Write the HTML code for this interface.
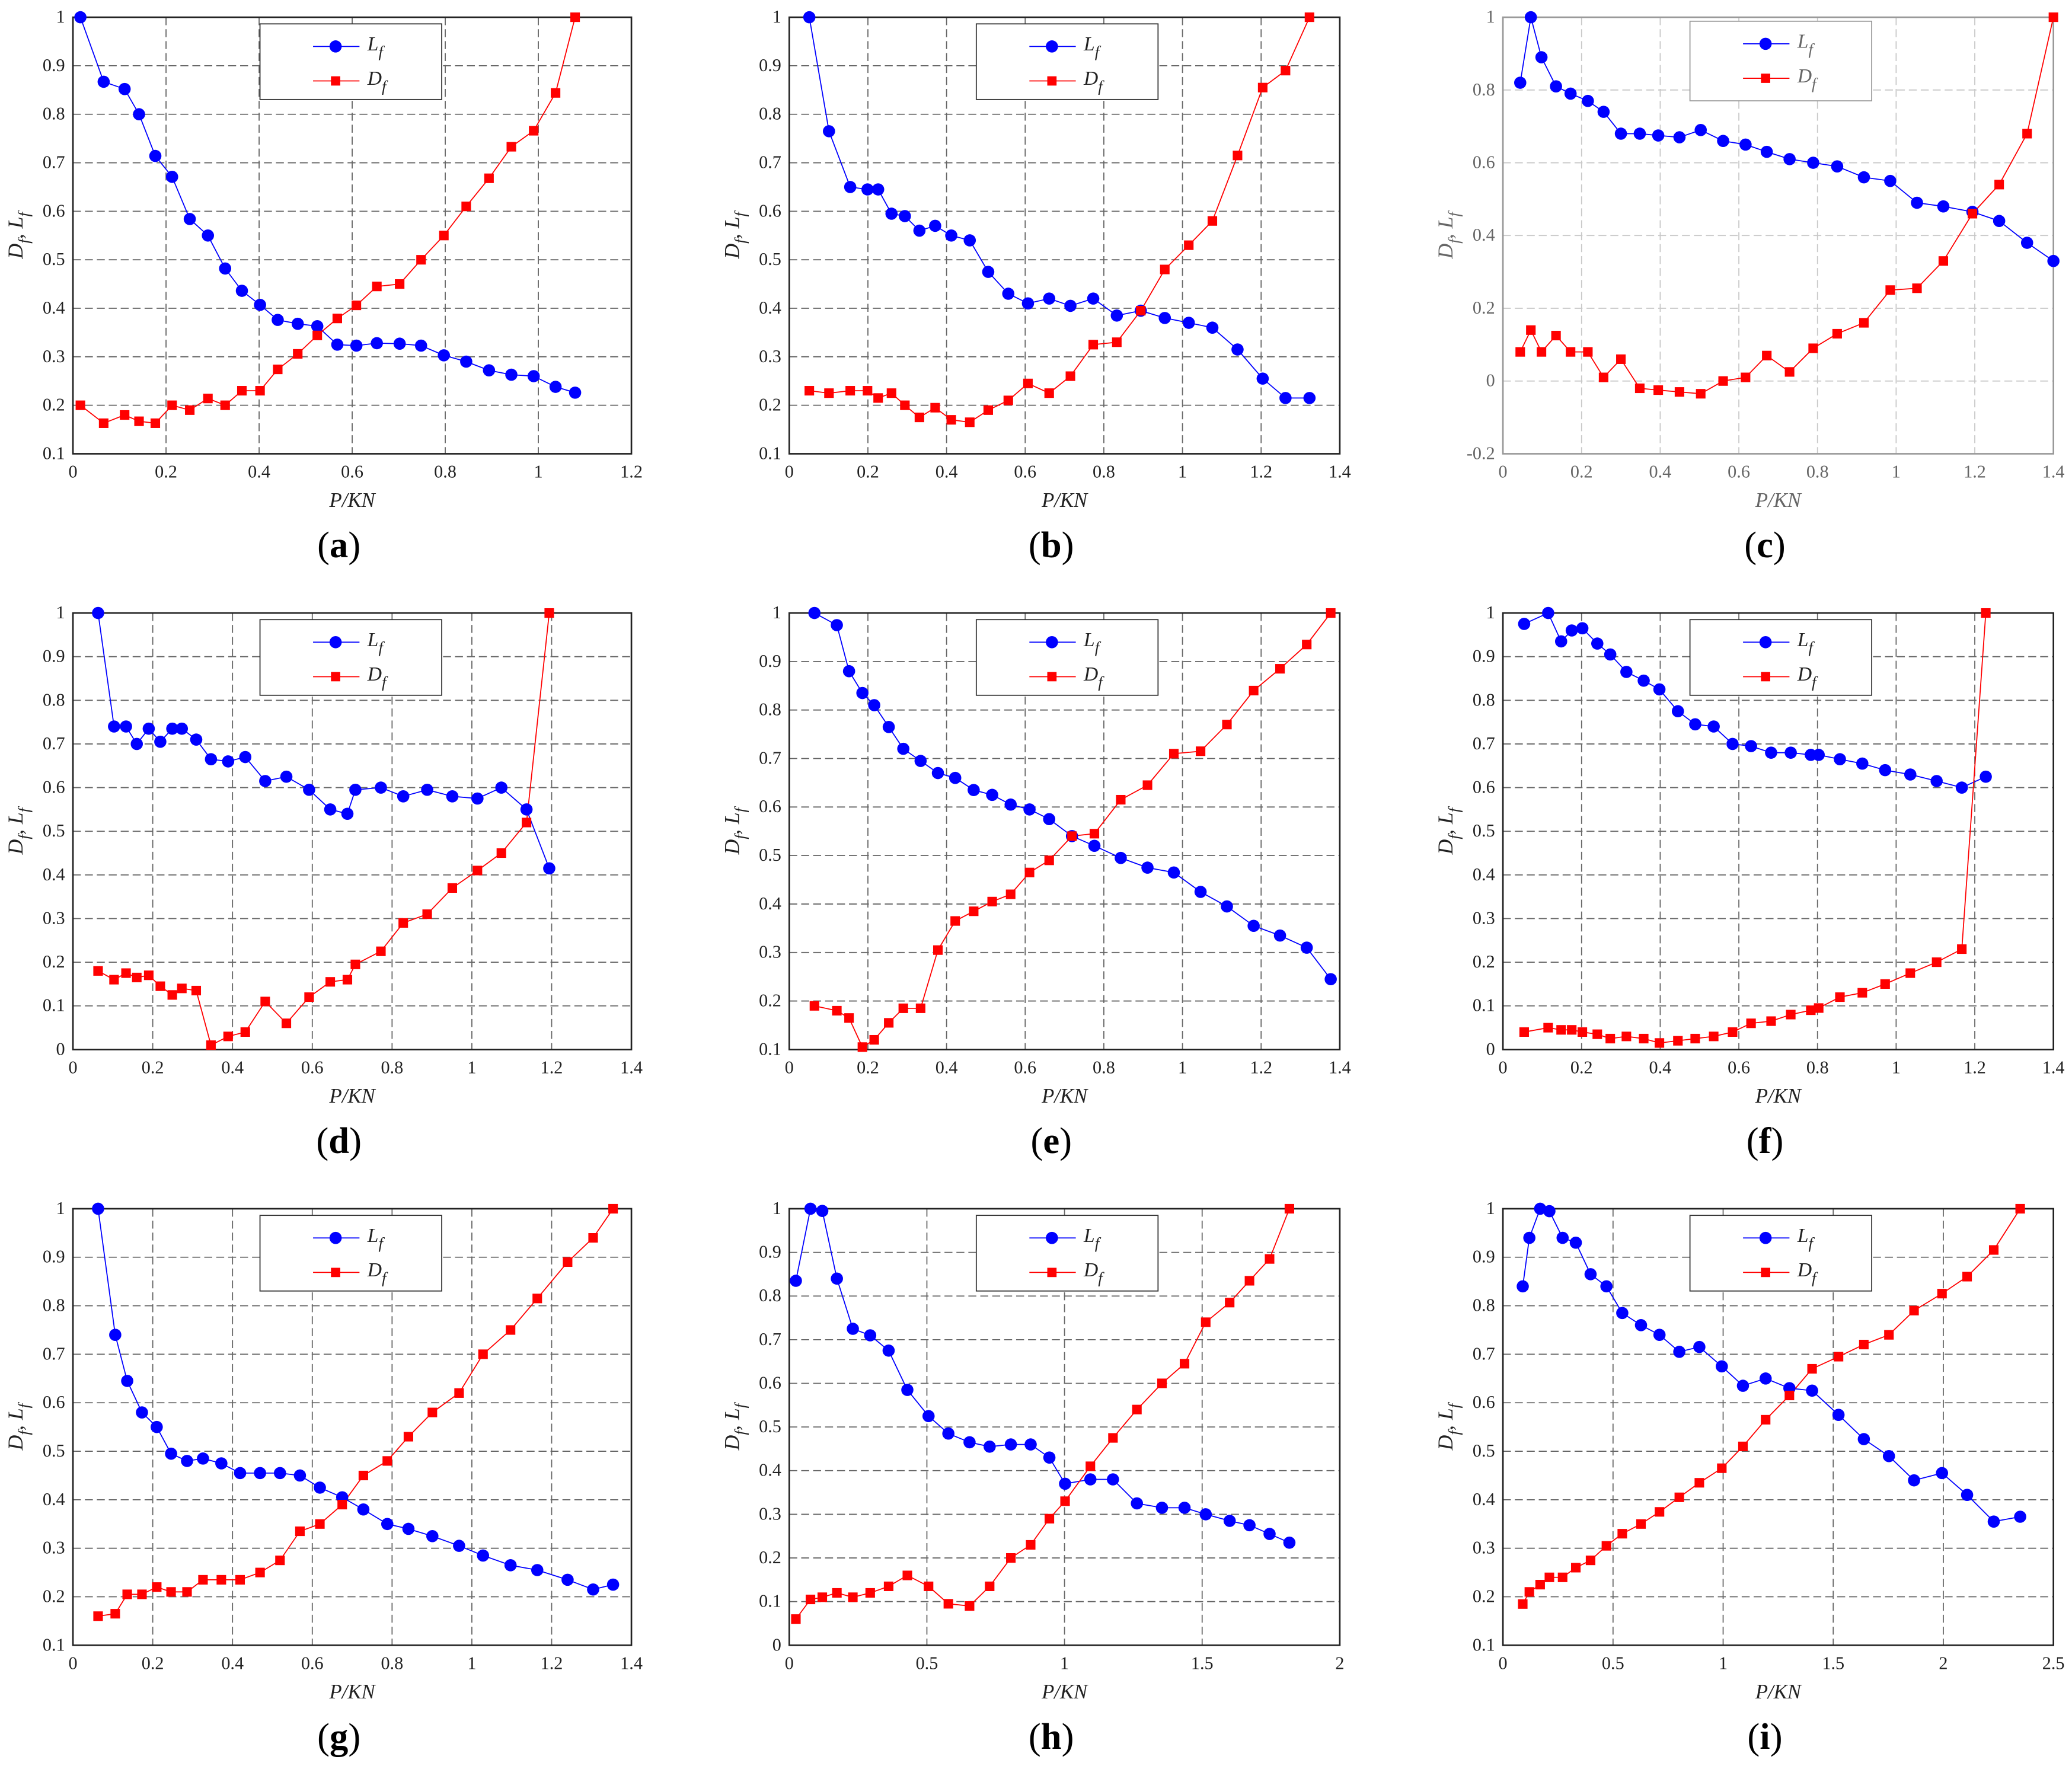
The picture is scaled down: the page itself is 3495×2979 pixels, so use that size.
<!DOCTYPE html>
<html><head><meta charset="utf-8"><style>
html,body{margin:0;padding:0;background:#fff}
svg{display:block}
svg text{font-family:"Liberation Serif","DejaVu Serif",serif}
</style></head><body>
<svg id="fig" width="3495" height="2979" viewBox="0 0 1562 1331" preserveAspectRatio="none" xmlns="http://www.w3.org/2000/svg" font-family="Liberation Serif, serif"></svg>
<script>
// ---- data ----
const xA=[.016,.066,.111,.142,.177,.213,.251,.29,.327,.363,.402,.44,.483,.525,.568,.609,.653,.702,.748,.797,.845,.894,.942,.99,1.037,1.079];
const lfA=[1.0,.867,.852,.80,.714,.671,.584,.55,.482,.436,.407,.376,.368,.363,.325,.323,.328,.327,.323,.303,.29,.272,.263,.26,.238,.226];
const dfA=[.20,.163,.18,.167,.163,.20,.19,.214,.20,.23,.23,.274,.306,.344,.379,.406,.445,.45,.50,.55,.61,.668,.733,.766,.844,1.0];
const xB=[.051,.101,.155,.199,.226,.26,.294,.331,.371,.412,.459,.506,.557,.607,.661,.715,.773,.833,.894,.955,1.016,1.076,1.14,1.204,1.262,1.323];
const lfB=[1.0,.765,.65,.645,.645,.595,.59,.56,.57,.55,.54,.475,.43,.41,.42,.405,.42,.385,.395,.38,.37,.36,.315,.255,.215,.215];
const dfB=[.23,.225,.23,.23,.215,.225,.20,.175,.195,.17,.165,.19,.21,.245,.225,.26,.325,.33,.395,.48,.53,.58,.715,.855,.89,1.0];
const xC=[.044,.071,.098,.135,.172,.216,.256,.30,.348,.395,.449,.503,.56,.617,.671,.729,.789,.85,.918,.985,1.053,1.12,1.194,1.262,1.333,1.40];
const lfC=[.82,1.0,.89,.81,.79,.77,.74,.68,.68,.675,.67,.69,.66,.65,.63,.61,.60,.59,.56,.55,.49,.48,.465,.44,.38,.33];
const dfC=[.08,.14,.08,.125,.08,.08,.01,.06,-.02,-.025,-.03,-.035,0,.01,.07,.025,.09,.13,.16,.25,.255,.33,.46,.54,.68,1.0];
const xD=[.063,.103,.133,.16,.19,.219,.249,.273,.309,.346,.389,.432,.482,.535,.592,.645,.688,.708,.772,.828,.888,.951,1.014,1.074,1.137,1.194];
const lfD=[1.0,.74,.74,.70,.735,.705,.735,.735,.71,.665,.66,.67,.615,.625,.595,.55,.54,.595,.60,.58,.595,.58,.575,.60,.55,.415];
const dfD=[.18,.16,.175,.165,.17,.145,.125,.14,.135,.01,.03,.04,.11,.06,.12,.155,.16,.195,.225,.29,.31,.37,.41,.45,.52,1.0];
const xE=[.064,.121,.152,.186,.216,.253,.29,.334,.378,.422,.469,.516,.563,.611,.661,.719,.776,.843,.911,.978,1.046,1.113,1.181,1.248,1.316,1.377];
const lfE=[1.0,.975,.88,.835,.81,.765,.72,.695,.67,.66,.635,.625,.605,.595,.575,.54,.52,.495,.475,.465,.425,.395,.355,.335,.31,.245];
const dfE=[.19,.18,.165,.105,.12,.155,.185,.185,.305,.365,.385,.405,.42,.465,.49,.54,.545,.615,.645,.71,.715,.77,.84,.885,.935,1.0];
const xF=[.054,.115,.148,.175,.202,.24,.273,.314,.358,.398,.445,.489,.536,.584,.631,.682,.732,.783,.803,.857,.914,.972,1.036,1.103,1.167,1.228];
const lfF=[.975,1.0,.935,.96,.965,.93,.905,.865,.845,.825,.775,.745,.74,.70,.695,.68,.68,.675,.675,.665,.655,.64,.63,.615,.60,.625];
const dfF=[.04,.05,.045,.045,.04,.035,.025,.03,.025,.015,.02,.025,.03,.04,.06,.065,.08,.09,.095,.12,.13,.15,.175,.20,.23,1.0];
const xG=[.063,.106,.136,.173,.21,.246,.286,.326,.372,.419,.469,.519,.569,.619,.675,.728,.788,.841,.901,.968,1.028,1.097,1.164,1.24,1.304,1.354];
const lfG=[1.0,.74,.645,.58,.55,.495,.48,.485,.475,.455,.455,.455,.45,.425,.405,.38,.35,.34,.325,.305,.285,.265,.255,.235,.215,.225];
const dfG=[.16,.165,.205,.205,.22,.21,.21,.235,.235,.235,.25,.275,.335,.35,.39,.45,.48,.53,.58,.62,.70,.75,.815,.89,.94,1.0];
const xH=[.024,.077,.12,.173,.231,.294,.361,.429,.506,.578,.655,.728,.805,.877,.945,1.002,1.094,1.176,1.263,1.354,1.436,1.513,1.6,1.672,1.745,1.817];
const lfH=[.835,1.0,.995,.84,.725,.71,.675,.585,.525,.485,.465,.455,.46,.46,.43,.37,.38,.38,.325,.315,.315,.30,.285,.275,.255,.235];
const dfH=[.06,.105,.11,.12,.11,.12,.135,.16,.135,.095,.09,.135,.20,.23,.29,.33,.41,.475,.54,.60,.645,.74,.785,.835,.885,1.0];
const xI=[.09,.12,.169,.211,.271,.331,.398,.47,.542,.627,.711,.801,.892,.994,1.09,1.193,1.301,1.404,1.524,1.639,1.753,1.867,1.994,2.108,2.229,2.349];
const lfI=[.84,.94,1.0,.995,.94,.93,.865,.84,.785,.76,.74,.705,.715,.675,.635,.65,.63,.625,.575,.525,.49,.44,.455,.41,.355,.365];
const dfI=[.185,.21,.225,.24,.24,.26,.275,.305,.33,.35,.375,.405,.435,.465,.51,.565,.615,.67,.695,.72,.74,.79,.825,.86,.915,1.0];

const NS='http://www.w3.org/2000/svg';
const svg=document.getElementById('fig');
const FF='"Liberation Serif", "DejaVu Serif", serif';
function mk(t,a,p){const e=document.createElementNS(NS,t);for(const k in a)e.setAttribute(k,a[k]);if(t==='text')e.style.fontFamily=FF;(p||svg).appendChild(e);return e;}
function fmt(v){const r=Math.round(v*10)/10;return r.toString();}

const panels=[
 {id:'a',L:55,T:13,W:421,x:xA,lf:lfA,df:dfA,xmax:1.2,xs:.2,ymin:.1,ymax:1,ys:.1,c:false},
 {id:'b',L:595,T:13,W:415,x:xB,lf:lfB,df:dfB,xmax:1.4,xs:.2,ymin:.1,ymax:1,ys:.1,c:false},
 {id:'c',L:1133,T:13,W:415,x:xC,lf:lfC,df:dfC,xmax:1.4,xs:.2,ymin:-.2,ymax:1,ys:.2,c:true},
 {id:'d',L:55,T:462,W:421,x:xD,lf:lfD,df:dfD,xmax:1.4,xs:.2,ymin:0,ymax:1,ys:.1,c:false},
 {id:'e',L:595,T:462,W:415,x:xE,lf:lfE,df:dfE,xmax:1.4,xs:.2,ymin:.1,ymax:1,ys:.1,c:false},
 {id:'f',L:1133,T:462,W:415,x:xF,lf:lfF,df:dfF,xmax:1.4,xs:.2,ymin:0,ymax:1,ys:.1,c:false},
 {id:'g',L:55,T:911,W:421,x:xG,lf:lfG,df:dfG,xmax:1.4,xs:.2,ymin:.1,ymax:1,ys:.1,c:false},
 {id:'h',L:595,T:911,W:415,x:xH,lf:lfH,df:dfH,xmax:2,xs:.5,ymin:0,ymax:1,ys:.1,c:false},
 {id:'i',L:1133,T:911,W:415,x:xI,lf:lfI,df:dfI,xmax:2.5,xs:.5,ymin:.1,ymax:1,ys:.1,c:false}
];
const H=329;
panels.forEach(p=>{
 const g=mk('g',{});
 
 
 const X=v=>p.L+v/p.xmax*p.W;
 const Y=v=>p.T+H-(v-p.ymin)/(p.ymax-p.ymin)*H;
 const gridCol=p.c?'#c8c8c8':'#666';
 const txtCol=p.c?'#666':'#222';
 const nx=Math.round(p.xmax/p.xs), ny=Math.round((p.ymax-p.ymin)/p.ys);
 for(let i=0;i<=nx;i++){const v=i*p.xs,x=X(v);
  if(i>0&&i<nx){const l=mk('line',{x1:x,y1:p.T,x2:x,y2:p.T+H,stroke:gridCol,'stroke-width':.8,'stroke-dasharray':'6,3'},g);}
  const t=mk('text',{x:x,y:p.T+H+18,'text-anchor':'middle','font-size':13.5,fill:txtCol},g);t.textContent=fmt(v);
  }
 for(let j=0;j<=ny;j++){const v=p.ymin+j*p.ys,y=Y(v);
  if(j>0&&j<ny){const l=mk('line',{x1:p.L,y1:y,x2:p.L+p.W,y2:y,stroke:gridCol,'stroke-width':.8,'stroke-dasharray':'6,3'},g);}
  const t=mk('text',{x:p.L-6,y:y+4,'text-anchor':'end','font-size':13.5,fill:txtCol},g);t.textContent=fmt(v);
  }
 const fr=mk('rect',{x:p.L,y:p.T,width:p.W,height:H,fill:'none',stroke:p.c?'#999':'#222','stroke-width':1.2},g);
 
 const lp=p.x.map((v,i)=>X(v)+','+Y(p.lf[i])).join(' ');
 const dp=p.x.map((v,i)=>X(v)+','+Y(p.df[i])).join(' ');
 const l1=mk('polyline',{points:lp,fill:'none',stroke:'#0000ff','stroke-width':.8},g);
 
 const l2=mk('polyline',{points:dp,fill:'none',stroke:'#ff0000','stroke-width':.8},g);
 
 p.x.forEach((v,i)=>{
  const c=mk('circle',{cx:X(v),cy:Y(p.lf[i]),r:4.6,fill:'#0000ff'},g);
  
  const s=mk('rect',{x:X(v)-3.6,y:Y(p.df[i])-3.6,width:7.2,height:7.2,fill:'#ff0000'},g);
  
 });
 const lx=p.L+141,ly=p.T+(p.c?3:5);
 const lg=mk('g',{},g);
 
 mk('rect',{x:lx,y:ly,width:137,height:p.c?60:57,fill:'#fff',stroke:p.c?'#999':'#333','stroke-width':.8},lg);
 mk('line',{x1:lx+40,y1:ly+17,x2:lx+75,y2:ly+17,stroke:'#00f','stroke-width':.8},lg);
 mk('circle',{cx:lx+57,cy:ly+17,r:4.6,fill:'#00f'},lg);
 mk('line',{x1:lx+40,y1:ly+43,x2:lx+75,y2:ly+43,stroke:'#f00','stroke-width':.8},lg);
 mk('rect',{x:lx+53.5,y:ly+39.5,width:7,height:7,fill:'#f00'},lg);
 const t1=mk('text',{x:lx+81,y:ly+20,'font-size':15,'font-style':'italic',fill:txtCol},lg);
 t1.innerHTML='L<tspan dy="5" font-size="12">f</tspan>';
 
 const t2=mk('text',{x:lx+81,y:ly+46,'font-size':15,'font-style':'italic',fill:txtCol},lg);
 t2.innerHTML='D<tspan dy="5" font-size="12">f</tspan>';
 
 const xt=mk('text',{x:p.L+p.W/2,y:p.T+H+40,'text-anchor':'middle','font-size':15.5,'font-style':'italic',fill:txtCol},g);
 xt.textContent='P/KN';
 const cy=p.T+H/2;
 const yt=mk('text',{x:0,y:0,transform:`translate(${p.L-38},${cy}) rotate(-90)`,'text-anchor':'middle','font-size':16,'font-style':'italic',fill:txtCol},g);
 yt.innerHTML='D<tspan dy="5" font-size="12">f</tspan><tspan dy="-5">, L</tspan><tspan dy="5" font-size="12">f</tspan>';
 
 const pl=mk('text',{x:p.L+p.W/2-10,y:p.T+H+78,'text-anchor':'middle','font-size':28,fill:'#000'},g);
 pl.innerHTML='(<tspan font-weight="bold">'+p.id+'</tspan>)';
 
});
</script>
</body></html>
